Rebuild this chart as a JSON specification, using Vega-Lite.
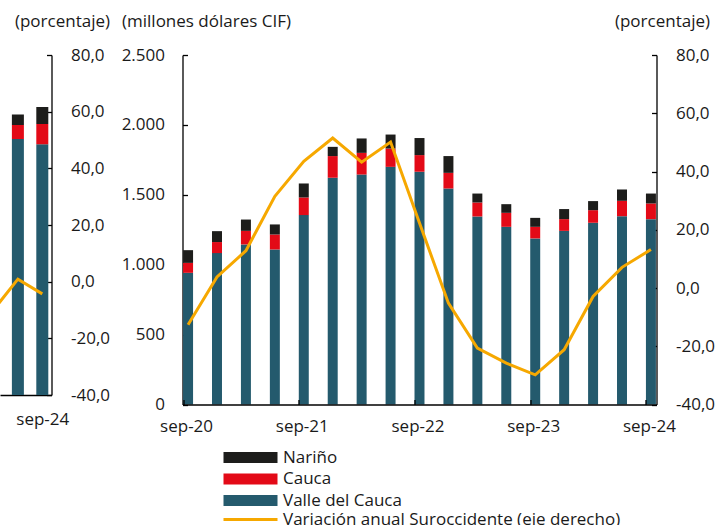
{
  "$schema": "https://vega.github.io/schema/vega-lite/v6.json",
  "padding": {"top": 12, "left": 0, "right": 0, "bottom": 0},
  "background": "white",
  "bounds": "flush",
  "spacing": 130.5,
  "config": {
    "font": "Open Sans",
    "view": {"stroke": null},
    "axis": {
      "domainColor": "#000000",
      "domainWidth": 1.3,
      "tickColor": "#000000",
      "tickWidth": 1.3,
      "labelFont": "Open Sans",
      "labelFontSize": 17,
      "labelColor": "#1a1a1a",
      "titleFont": "Open Sans",
      "titleFontSize": 17,
      "titleFontWeight": "normal",
      "titleColor": "#1a1a1a",
      "grid": false
    },
    "legend": {
      "labelFont": "Open Sans",
      "labelFontSize": 17,
      "labelColor": "#1a1a1a",
      "labelLimit": 600
    }
  },
  "datasets": {
    "main_barras": [
      {"periodo": "sep-20", "region": "Valle del Cauca", "valor": 942, "orden": 1},
      {"periodo": "sep-20", "region": "Cauca", "valor": 71, "orden": 2},
      {"periodo": "sep-20", "region": "Nariño", "valor": 91, "orden": 3},
      {"periodo": "dic-20", "region": "Valle del Cauca", "valor": 1083, "orden": 1},
      {"periodo": "dic-20", "region": "Cauca", "valor": 79, "orden": 2},
      {"periodo": "dic-20", "region": "Nariño", "valor": 78, "orden": 3},
      {"periodo": "mar-21", "region": "Valle del Cauca", "valor": 1145, "orden": 1},
      {"periodo": "mar-21", "region": "Cauca", "valor": 97, "orden": 2},
      {"periodo": "mar-21", "region": "Nariño", "valor": 81, "orden": 3},
      {"periodo": "jun-21", "region": "Valle del Cauca", "valor": 1109, "orden": 1},
      {"periodo": "jun-21", "region": "Cauca", "valor": 107, "orden": 2},
      {"periodo": "jun-21", "region": "Nariño", "valor": 72, "orden": 3},
      {"periodo": "sep-21", "region": "Valle del Cauca", "valor": 1355, "orden": 1},
      {"periodo": "sep-21", "region": "Cauca", "valor": 126, "orden": 2},
      {"periodo": "sep-21", "region": "Nariño", "valor": 100, "orden": 3},
      {"periodo": "dic-21", "region": "Valle del Cauca", "valor": 1622, "orden": 1},
      {"periodo": "dic-21", "region": "Cauca", "valor": 155, "orden": 2},
      {"periodo": "dic-21", "region": "Nariño", "valor": 66, "orden": 3},
      {"periodo": "mar-22", "region": "Valle del Cauca", "valor": 1645, "orden": 1},
      {"periodo": "mar-22", "region": "Cauca", "valor": 155, "orden": 2},
      {"periodo": "mar-22", "region": "Nariño", "valor": 103, "orden": 3},
      {"periodo": "jun-22", "region": "Valle del Cauca", "valor": 1700, "orden": 1},
      {"periodo": "jun-22", "region": "Cauca", "valor": 131, "orden": 2},
      {"periodo": "jun-22", "region": "Nariño", "valor": 100, "orden": 3},
      {"periodo": "sep-22", "region": "Valle del Cauca", "valor": 1665, "orden": 1},
      {"periodo": "sep-22", "region": "Cauca", "valor": 119, "orden": 2},
      {"periodo": "sep-22", "region": "Nariño", "valor": 122, "orden": 3},
      {"periodo": "dic-22", "region": "Valle del Cauca", "valor": 1545, "orden": 1},
      {"periodo": "dic-22", "region": "Cauca", "valor": 112, "orden": 2},
      {"periodo": "dic-22", "region": "Nariño", "valor": 120, "orden": 3},
      {"periodo": "mar-23", "region": "Valle del Cauca", "valor": 1345, "orden": 1},
      {"periodo": "mar-23", "region": "Cauca", "valor": 100, "orden": 2},
      {"periodo": "mar-23", "region": "Nariño", "valor": 64, "orden": 3},
      {"periodo": "jun-23", "region": "Valle del Cauca", "valor": 1271, "orden": 1},
      {"periodo": "jun-23", "region": "Cauca", "valor": 100, "orden": 2},
      {"periodo": "jun-23", "region": "Nariño", "valor": 62, "orden": 3},
      {"periodo": "sep-23", "region": "Valle del Cauca", "valor": 1188, "orden": 1},
      {"periodo": "sep-23", "region": "Cauca", "valor": 83, "orden": 2},
      {"periodo": "sep-23", "region": "Nariño", "valor": 64, "orden": 3},
      {"periodo": "dic-23", "region": "Valle del Cauca", "valor": 1242, "orden": 1},
      {"periodo": "dic-23", "region": "Cauca", "valor": 84, "orden": 2},
      {"periodo": "dic-23", "region": "Nariño", "valor": 72, "orden": 3},
      {"periodo": "mar-24", "region": "Valle del Cauca", "valor": 1300, "orden": 1},
      {"periodo": "mar-24", "region": "Cauca", "valor": 90, "orden": 2},
      {"periodo": "mar-24", "region": "Nariño", "valor": 65, "orden": 3},
      {"periodo": "jun-24", "region": "Valle del Cauca", "valor": 1347, "orden": 1},
      {"periodo": "jun-24", "region": "Cauca", "valor": 110, "orden": 2},
      {"periodo": "jun-24", "region": "Nariño", "valor": 81, "orden": 3},
      {"periodo": "sep-24", "region": "Valle del Cauca", "valor": 1326, "orden": 1},
      {"periodo": "sep-24", "region": "Cauca", "valor": 112, "orden": 2},
      {"periodo": "sep-24", "region": "Nariño", "valor": 71, "orden": 3}
    ],
    "main_linea": [
      {"periodo": "sep-20", "serie": "Variación anual Suroccidente (eje derecho)", "variacion": -12.6},
      {"periodo": "dic-20", "serie": "Variación anual Suroccidente (eje derecho)", "variacion": 3.8},
      {"periodo": "mar-21", "serie": "Variación anual Suroccidente (eje derecho)", "variacion": 12.8},
      {"periodo": "jun-21", "serie": "Variación anual Suroccidente (eje derecho)", "variacion": 31.5},
      {"periodo": "sep-21", "serie": "Variación anual Suroccidente (eje derecho)", "variacion": 43.5},
      {"periodo": "dic-21", "serie": "Variación anual Suroccidente (eje derecho)", "variacion": 51.5},
      {"periodo": "mar-22", "serie": "Variación anual Suroccidente (eje derecho)", "variacion": 43.2},
      {"periodo": "jun-22", "serie": "Variación anual Suroccidente (eje derecho)", "variacion": 50.1},
      {"periodo": "sep-22", "serie": "Variación anual Suroccidente (eje derecho)", "variacion": 22.3},
      {"periodo": "dic-22", "serie": "Variación anual Suroccidente (eje derecho)", "variacion": -5.2},
      {"periodo": "mar-23", "serie": "Variación anual Suroccidente (eje derecho)", "variacion": -20.6},
      {"periodo": "jun-23", "serie": "Variación anual Suroccidente (eje derecho)", "variacion": -25.8},
      {"periodo": "sep-23", "serie": "Variación anual Suroccidente (eje derecho)", "variacion": -29.8},
      {"periodo": "dic-23", "serie": "Variación anual Suroccidente (eje derecho)", "variacion": -21.2},
      {"periodo": "mar-24", "serie": "Variación anual Suroccidente (eje derecho)", "variacion": -2.9},
      {"periodo": "jun-24", "serie": "Variación anual Suroccidente (eje derecho)", "variacion": 7.1},
      {"periodo": "sep-24", "serie": "Variación anual Suroccidente (eje derecho)", "variacion": 13.2}
    ],
    "izq_barras": [
      {"idx": 1, "region": "Valle del Cauca", "valor": 1882, "orden": 1},
      {"idx": 1, "region": "Cauca", "valor": 103, "orden": 2},
      {"idx": 1, "region": "Nariño", "valor": 78, "orden": 3},
      {"idx": 2, "region": "Valle del Cauca", "valor": 1843, "orden": 1},
      {"idx": 2, "region": "Cauca", "valor": 150, "orden": 2},
      {"idx": 2, "region": "Nariño", "valor": 125, "orden": 3}
    ],
    "izq_linea": [
      {"idx": 0, "serie": "Variación anual Suroccidente (eje derecho)", "variacion": -10},
      {"idx": 1, "serie": "Variación anual Suroccidente (eje derecho)", "variacion": 0.9},
      {"idx": 2, "serie": "Variación anual Suroccidente (eje derecho)", "variacion": -4.3}
    ]
  },
  "hconcat": [
    {
      "width": 51.5,
      "height": 340,
      "layer": [
        {
          "data": {"name": "izq_barras"},
          "mark": {"type": "bar", "size": 12, "clip": true},
          "encoding": {
            "x": {
              "field": "idx", "type": "quantitative",
              "scale": {"domain": [0.472, 2.172], "nice": false, "zero": false},
              "axis": {"values": [2], "labelExpr": "'sep-24'", "title": null, "ticks": false, "labelPadding": 16, "labelFlush": false}
            },
            "y": {
              "field": "valor", "type": "quantitative", "stack": "zero",
              "scale": {"domain": [0, 2500]},
              "axis": null
            },
            "color": {
              "field": "region", "type": "nominal",
              "scale": {"domain": ["Nariño", "Cauca", "Valle del Cauca"], "range": ["#1d1d1b", "#e30a17", "#245a6d"]},
              "legend": {
                "title": null, "orient": "none", "legendX": 242, "legendY": 394,
                "symbolType": "M-4.5,-0.92H4.5V0.92H-4.5Z", "symbolSize": 144,
                "symbolStrokeWidth": 0, "labelOffset": 24, "rowPadding": 3.5
              }
            },
            "order": {"field": "orden", "type": "quantitative"}
          }
        },
        {
          "data": {"name": "izq_linea"},
          "mark": {"type": "line", "clip": true, "strokeWidth": 3},
          "encoding": {
            "x": {"field": "idx", "type": "quantitative"},
            "y": {
              "field": "variacion", "type": "quantitative",
              "scale": {"domain": [-40, 80], "nice": false},
              "axis": {
                "orient": "right", "values": [-40, -20, 0, 20, 40, 60, 80],
                "labelExpr": "replace(replace(format(datum.value, '.1f'), '.', ','), '−', '-')",
                "tickSize": -5, "labelPadding": 24,
                "title": "(porcentaje)", "titleAngle": 0, "titleAlign": "right",
                "titleBaseline": "alphabetic", "titleX": 58, "titleY": -29
              }
            },
            "stroke": {
              "field": "serie", "type": "nominal",
              "scale": {"domain": ["Variación anual Suroccidente (eje derecho)"], "range": ["#f6a800"]},
              "legend": {
                "title": null, "orient": "none", "legendX": 242, "legendY": 456,
                "symbolType": "M-4.5,0H4.5", "symbolSize": 144, "symbolStrokeWidth": 3,
                "labelOffset": 24
              }
            }
          }
        }
      ],
      "resolve": {"scale": {"y": "independent"}}
    },
    {
      "width": 474,
      "height": 349.5,
      "layer": [
        {
          "data": {"name": "main_barras"},
          "mark": {"type": "bar"},
          "encoding": {
            "x": {
              "field": "periodo", "type": "nominal",
              "scale": {
                "domain": ["sep-20","dic-20","mar-21","jun-21","sep-21","dic-21","mar-22","jun-22","sep-22","dic-22","mar-23","jun-23","sep-23","dic-23","mar-24","jun-24","sep-24"],
                "paddingInner": 0.655, "paddingOuter": 0.02
              },
              "axis": {
                "values": ["sep-20","sep-21","sep-22","sep-23","sep-24"],
                "title": null, "labelAngle": 0, "tickSize": -5, "labelPadding": 19,
                "tickOffset": -5, "labelOffset": 3, "zindex": 1
              }
            },
            "y": {
              "field": "valor", "type": "quantitative", "stack": "zero",
              "scale": {"domain": [0, 2500], "nice": false},
              "axis": {
                "orient": "left", "values": [0, 500, 1000, 1500, 2000, 2500],
                "labelExpr": "replace(format(datum.value, ','), ',', '.')",
                "tickSize": -5, "labelPadding": 23,
                "title": "(millones dólares CIF)", "titleAngle": 0, "titleAlign": "left",
                "titleBaseline": "alphabetic", "titleX": -61, "titleY": -29
              }
            },
            "color": {"field": "region", "type": "nominal"},
            "order": {"field": "orden", "type": "quantitative"}
          }
        },
        {
          "data": {"name": "main_linea"},
          "mark": {"type": "line", "strokeWidth": 3},
          "encoding": {
            "x": {"field": "periodo", "type": "nominal"},
            "y": {
              "field": "variacion", "type": "quantitative",
              "scale": {"domain": [-40, 80], "nice": false},
              "axis": {
                "orient": "right", "values": [-40, -20, 0, 20, 40, 60, 80],
                "labelExpr": "replace(replace(format(datum.value, '.1f'), '.', ','), '−', '-')",
                "tickSize": -5, "labelPadding": 24,
                "title": "(porcentaje)", "titleAngle": 0, "titleAlign": "right",
                "titleBaseline": "alphabetic", "titleX": 53, "titleY": -29
              }
            },
            "stroke": {"field": "serie", "type": "nominal"}
          }
        }
      ],
      "resolve": {"scale": {"y": "independent"}}
    }
  ]
}
